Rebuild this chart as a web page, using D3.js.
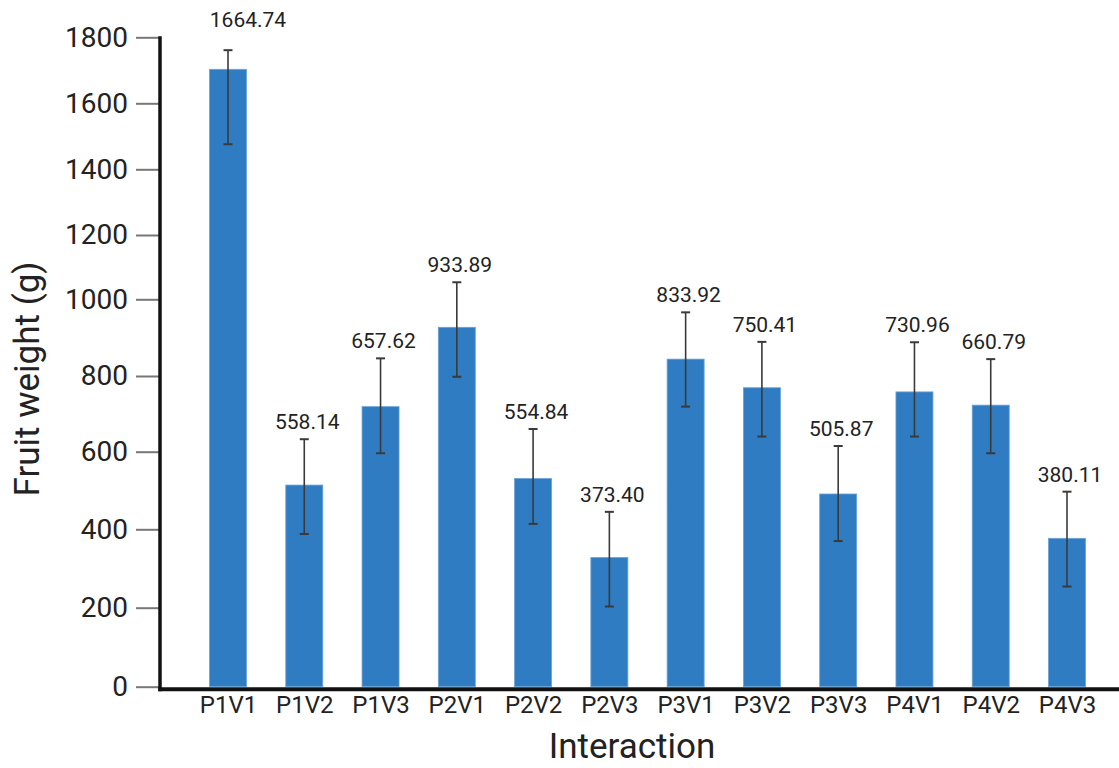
<!DOCTYPE html>
<html>
<head>
<meta charset="utf-8">
<script src="https://cdn.jsdelivr.net/npm/d3@7"></script>
<style>
  html, body { margin: 0; padding: 0; background: #fff; }
  svg { display: block; font-family: Roboto, "Noto Sans", sans-serif; }
</style>
</head>
<body>
<svg id="chart" width="1119" height="768"></svg>
<script>
// ---- data ----
const categories = ["P1V1","P1V2","P1V3","P2V1","P2V2","P2V3","P3V1","P3V2","P3V3","P4V1","P4V2","P4V3"];
const barValues  = [1703, 514, 719, 927, 531, 328, 844, 769, 491, 758, 723, 377];
const errHigh    = [1761, 633, 846, 1053, 660, 445, 966, 889, 615, 888, 844, 497];
const errLow     = [1476, 388, 596, 798, 414, 203, 719, 640, 370, 640, 596, 254];
const valueLabels = ["1664.74","558.14","657.62","933.89","554.84","373.40","833.92","750.41","505.87","730.96","660.79","380.11"];
const yTicks = [0, 200, 400, 600, 800, 1000, 1200, 1400, 1600, 1800];
// pixel positions of the (unevenly spaced) y ticks in the reference
const yTickPixels = [686.7, 607.7, 529.3, 451.7, 376, 299.3, 235, 169.3, 103.3, 37.3];

const svg = d3.select("#chart");

const x = d3.scalePoint().domain(categories).range([228, 1067]);
const y = d3.scaleLinear().domain(yTicks).range(yTickPixels);
const barW = 37;
const axisX = 160;
const y0 = y(0);

// bars
svg.append("g").selectAll("rect").data(categories).join("rect")
  .attr("x", d => x(d) - barW / 2)
  .attr("y", (d, i) => y(barValues[i]))
  .attr("width", barW)
  .attr("height", (d, i) => y0 - y(barValues[i]))
  .attr("fill", "#2f7cc2")
  .attr("stroke", "#6aa3d8")
  .attr("stroke-width", 0.8);

// error bars
const eg = svg.append("g").attr("stroke", "#3a3a3a");
categories.forEach((c, i) => {
  const cx = x(c);
  eg.append("line").attr("x1", cx).attr("x2", cx)
    .attr("y1", y(errHigh[i])).attr("y2", y(errLow[i])).attr("stroke-width", 1.6);
  [errHigh[i], errLow[i]].forEach(v => {
    eg.append("line").attr("x1", cx - 4.5).attr("x2", cx + 4.5)
      .attr("y1", y(v)).attr("y2", y(v)).attr("stroke-width", 2);
  });
});

// value labels (the tallest one sits against the top of the plot, as in the reference)
svg.append("g").selectAll("text").data(categories).join("text")
  .attr("x", (d, i) => x(d) + (i === 0 ? 20 : 3))
  .attr("y", (d, i) => i === 0 ? 27 : y(errHigh[i]) - 10)
  .attr("text-anchor", "middle")
  .attr("font-size", 21)
  .attr("fill", "#222")
  .text((d, i) => valueLabels[i]);

// y axis
const yAxis = d3.axisLeft(y).tickValues(yTicks).tickSize(24).tickPadding(8).tickFormat(d3.format("d"));
const gy = svg.append("g").attr("transform", `translate(${axisX},0)`).call(yAxis);
gy.select(".domain").remove();
gy.selectAll(".tick line").attr("stroke", "#777").attr("stroke-width", 2);
gy.selectAll(".tick text")
  .attr("font-size", 28)
  .attr("fill", "#222")
  .attr("font-family", "Roboto, sans-serif")
  .attr("dy", "0.32em")
  .attr("x", -32);

// axis lines
svg.append("line").attr("x1", axisX).attr("x2", axisX)
  .attr("y1", y(1800) - 1).attr("y2", y0 + 4.5)
  .attr("stroke", "#111").attr("stroke-width", 3.5);
svg.append("line").attr("x1", axisX - 1.75).attr("x2", 1119)
  .attr("y1", y0 + 2.5).attr("y2", y0 + 2.5)
  .attr("stroke", "#111").attr("stroke-width", 4);

// x labels
const xAxis = d3.axisBottom(x).tickSize(0).tickPadding(0);
const gx = svg.append("g").attr("transform", `translate(0,${y0})`).call(xAxis);
gx.select(".domain").remove();
gx.selectAll(".tick text")
  .attr("font-size", 24)
  .attr("fill", "#222")
  .attr("font-family", "Roboto, sans-serif")
  .attr("dy", null)
  .attr("y", 26.5);

// titles
svg.append("text")
  .attr("x", 632).attr("y", 758)
  .attr("text-anchor", "middle")
  .attr("font-size", 35)
  .attr("fill", "#222")
  .text("Interaction");

svg.append("text")
  .attr("transform", "translate(39,379) rotate(-90)")
  .attr("text-anchor", "middle")
  .attr("font-size", 35)
  .attr("fill", "#222")
  .text("Fruit weight (g)");
</script>
</body>
</html>
